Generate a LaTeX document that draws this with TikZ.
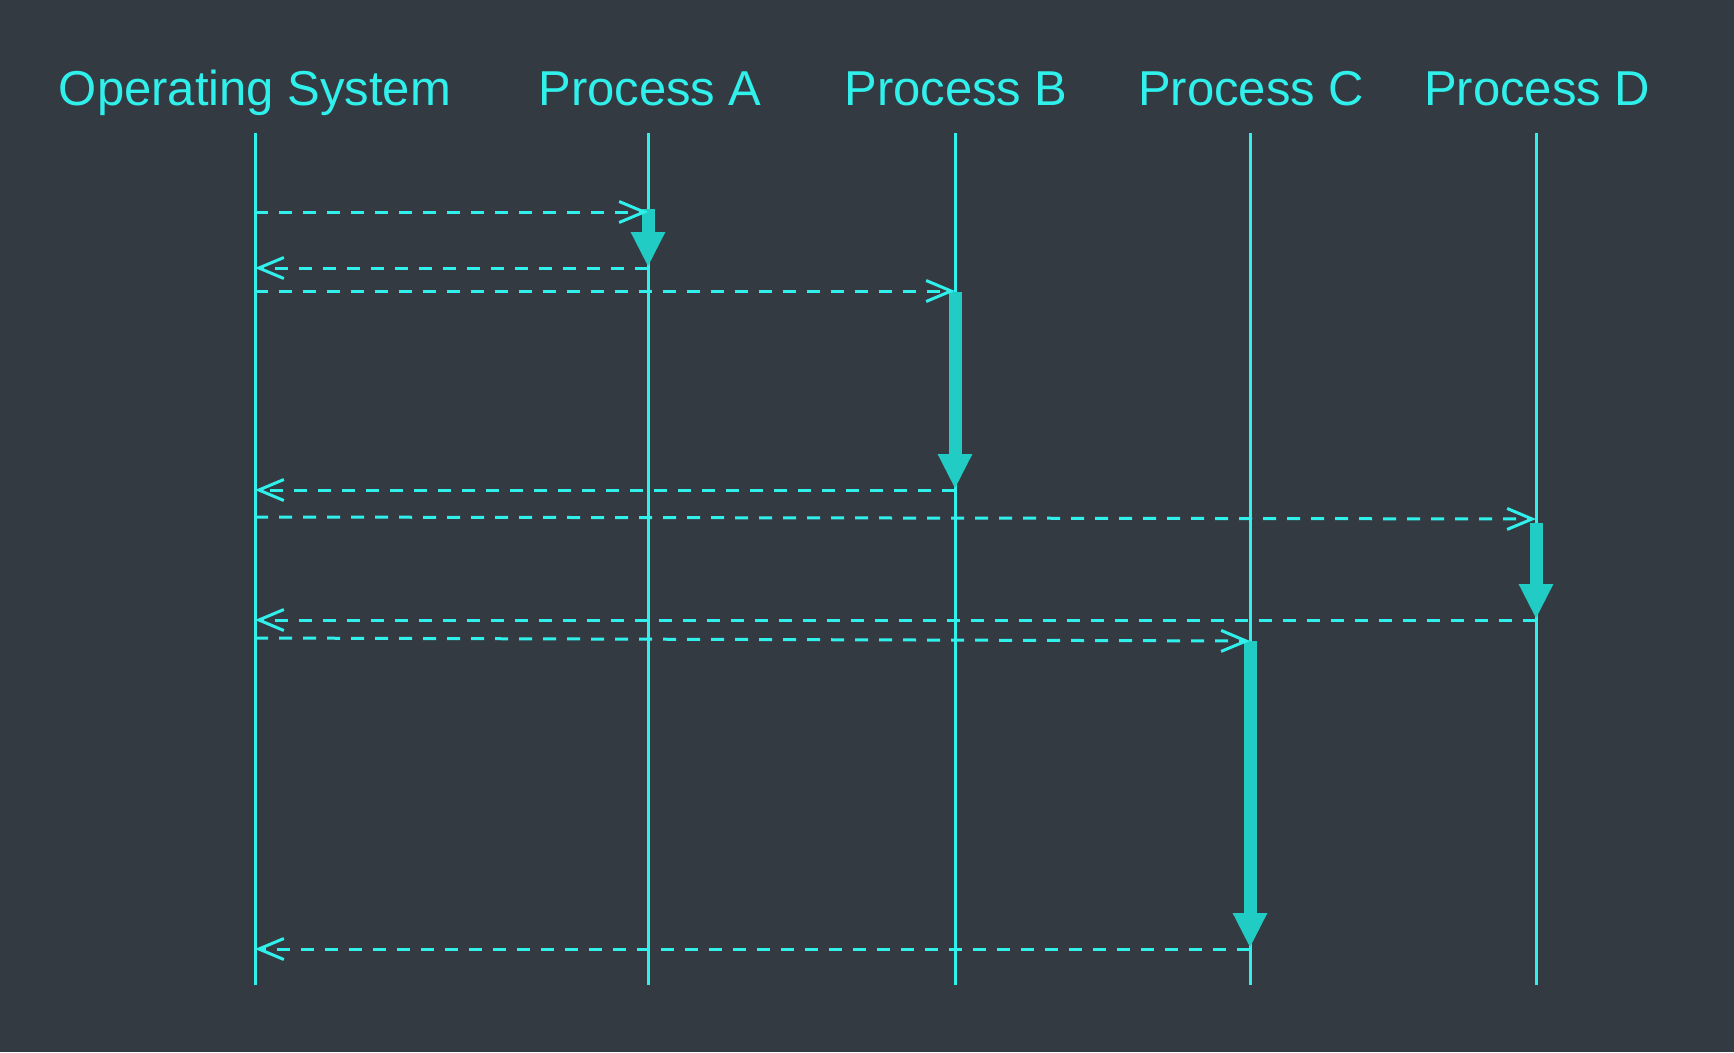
\documentclass[tikz,border=0pt]{standalone}
\usepackage{fontspec}
\setmainfont{Liberation Sans}
\usetikzlibrary{arrows.meta}
\definecolor{bg}{HTML}{343A41}
\definecolor{cy}{HTML}{30F0EC}
\definecolor{tl}{HTML}{20CCC4}
\begin{document}
\begin{tikzpicture}[x=1pt,y=-1pt,
 lbl/.style={text=cy, font=\fontsize{49}{58}\selectfont, anchor=base, inner sep=0pt},
 life/.style={draw=cy, line width=3pt},
 msg/.style={draw=cy, line width=3pt, dash pattern=on 13pt off 11pt, -{Straight Barb[length=25pt,width=21pt,line width=3pt]}},
 act/.style={draw=tl, line width=13pt, -{Triangle[length=35pt,width=32pt]}}]
\fill[bg] (0,0) rectangle (1734,1052);
\useasboundingbox (0,0) rectangle (1734,1052);
% headers
\node[lbl] (tOS) at (255,105) {Operating System};
\node[lbl] (tA) at (650,105) {Process A};
\node[lbl] (tB) at (956,105) {Process B};
\node[lbl] (tC) at (1251,105) {Process C};
\node[lbl] (tD) at (1537,105) {Process D};
% lifelines
\foreach \n/\x in {OS/255,A/648,B/955,C/1250,D/1536}{
  \coordinate (top\n) at (\x,133);
  \coordinate (bot\n) at (\x,985);
}
\foreach \n in {OS,A,B,C,D}{ \draw[life] (top\n) -- (bot\n); }
% message endpoints
\coordinate (m1s) at (255,212); \coordinate (m1e) at (648,212);
\coordinate (a1s) at (648,209); \coordinate (a1e) at (648,267);
\coordinate (m2s) at (648,268); \coordinate (m2e) at (255,268);
\coordinate (m3s) at (255,291); \coordinate (m3e) at (955,291);
\coordinate (a2s) at (955,292); \coordinate (a2e) at (955,489);
\coordinate (m4s) at (955,490); \coordinate (m4e) at (255,490);
\coordinate (m5s) at (255,517); \coordinate (m5e) at (1536,519);
\coordinate (a3s) at (1536,523); \coordinate (a3e) at (1536,619);
\coordinate (m6s) at (1536,620); \coordinate (m6e) at (255,620);
\coordinate (m7s) at (255,638); \coordinate (m7e) at (1250,641);
\coordinate (a4s) at (1250,641); \coordinate (a4e) at (1250,948);
\coordinate (m8s) at (1250,949); \coordinate (m8e) at (255,949);
% activations
\draw[act] (a1s) -- (a1e);
\draw[act] (a2s) -- (a2e);
\draw[act] (a3s) -- (a3e);
\draw[act] (a4s) -- (a4e);
% messages
\draw[msg] (m1s) -- (m1e);
\draw[msg] (m2s) -- (m2e);
\draw[msg] (m3s) -- (m3e);
\draw[msg] (m4s) -- (m4e);
\draw[msg] (m5s) -- (m5e);
\draw[msg] (m6s) -- (m6e);
\draw[msg] (m7s) -- (m7e);
\draw[msg] (m8s) -- (m8e);
\end{tikzpicture}
\end{document}
